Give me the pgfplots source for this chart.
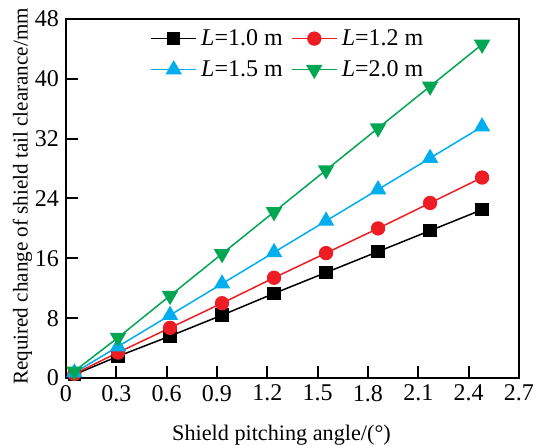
\documentclass[border=0pt]{standalone}
\usepackage{fontspec}
\setmainfont{Liberation Serif}
\usepackage{pgfplots}
\pgfplotsset{compat=1.18}
\definecolor{cblack}{HTML}{000000}
\definecolor{cred}{HTML}{EE1D24}
\definecolor{cblue}{HTML}{00AEEF}
\definecolor{cgreen}{HTML}{00A651}

\begin{document}
\begin{tikzpicture}
\begin{axis}[
  scale only axis,
  width=226.5pt,
  height=179.5pt,
  xmin=0, xmax=2.7,
  ymin=0, ymax=48,
  xtick={0,0.3,...,2.71},
  xticklabels={0,0.3,0.6,0.9,1.2,1.5,1.8,2.1,2.4,2.7},
  ytick={0,8,...,48},
  yticklabel={\pgfmathprintnumber[assume math mode=true]{\tick}},
  tick align=inside,
  xtick pos=bottom,
  ytick pos=left,
  major tick length=6pt,
  axis line style={line width=1pt},
  tick style={line width=1pt, black},
  tick label style={font=\rmfamily\fontsize{12}{14}\selectfont},
  xlabel={Shield pitching angle/(\textdegree)},
  ylabel={Required change of shield tail clearance/mm},
  xlabel style={font=\rmfamily\fontsize{11.1}{13}\selectfont, yshift=-5pt, xshift=-5.5pt},
  ylabel style={font=\rmfamily\fontsize{10.55}{12}\selectfont, yshift=-5.5pt, xshift=1pt},
  clip=false,
  legend columns=2,
  legend style={draw=none, fill=none, at={(0.185,0.984)}, anchor=north west,
    font=\rmfamily\fontsize{12}{14}\selectfont, inner sep=0pt,
    /tikz/every even column/.append style={column sep=2pt},
    row sep=2pt},
  legend image code/.code={\draw[mark repeat=2,mark phase=2] plot coordinates {(0cm,0cm) (0.4cm,0cm) (0.8cm,0cm)};},
  every axis plot/.append style={line width=0.75pt},
]
\addplot[cblack, mark=square*, mark size=3pt] coordinates {
(0.05,0.45) (0.31,2.9) (0.62,5.6) (0.93,8.4) (1.24,11.3) (1.55,14.1) (1.86,16.9) (2.17,19.7) (2.48,22.5)};
\addplot[cred, mark=*, mark size=3.2pt] coordinates {
(0.05,0.55) (0.31,3.4) (0.62,6.7) (0.93,10.0) (1.24,13.4) (1.55,16.7) (1.86,20.0) (2.17,23.4) (2.48,26.8)};
\addplot[cblue, mark=triangle*, mark size=4pt] coordinates {
(0.05,0.7) (0.31,4.2) (0.62,8.4) (0.93,12.6) (1.24,16.8) (1.55,21.0) (1.86,25.2) (2.17,29.4) (2.48,33.6)};
\addplot[cgreen, mark=triangle*, mark options={rotate=180}, mark size=4pt] coordinates {
(0.05,0.9) (0.31,5.4) (0.62,11.0) (0.93,16.6) (1.24,22.2) (1.55,27.8) (1.86,33.4) (2.17,39.0) (2.48,44.6)};
\legend{\textit{L}=1.0 m,\textit{L}=1.2 m,\textit{L}=1.5 m,\textit{L}=2.0 m}
\end{axis}
\pgfresetboundingbox
\path[use as bounding box] (current axis.south west) ++(-33pt,-34pt) rectangle ([shift={(9pt,9.5pt)}]current axis.north east);
\end{tikzpicture}
\end{document}
